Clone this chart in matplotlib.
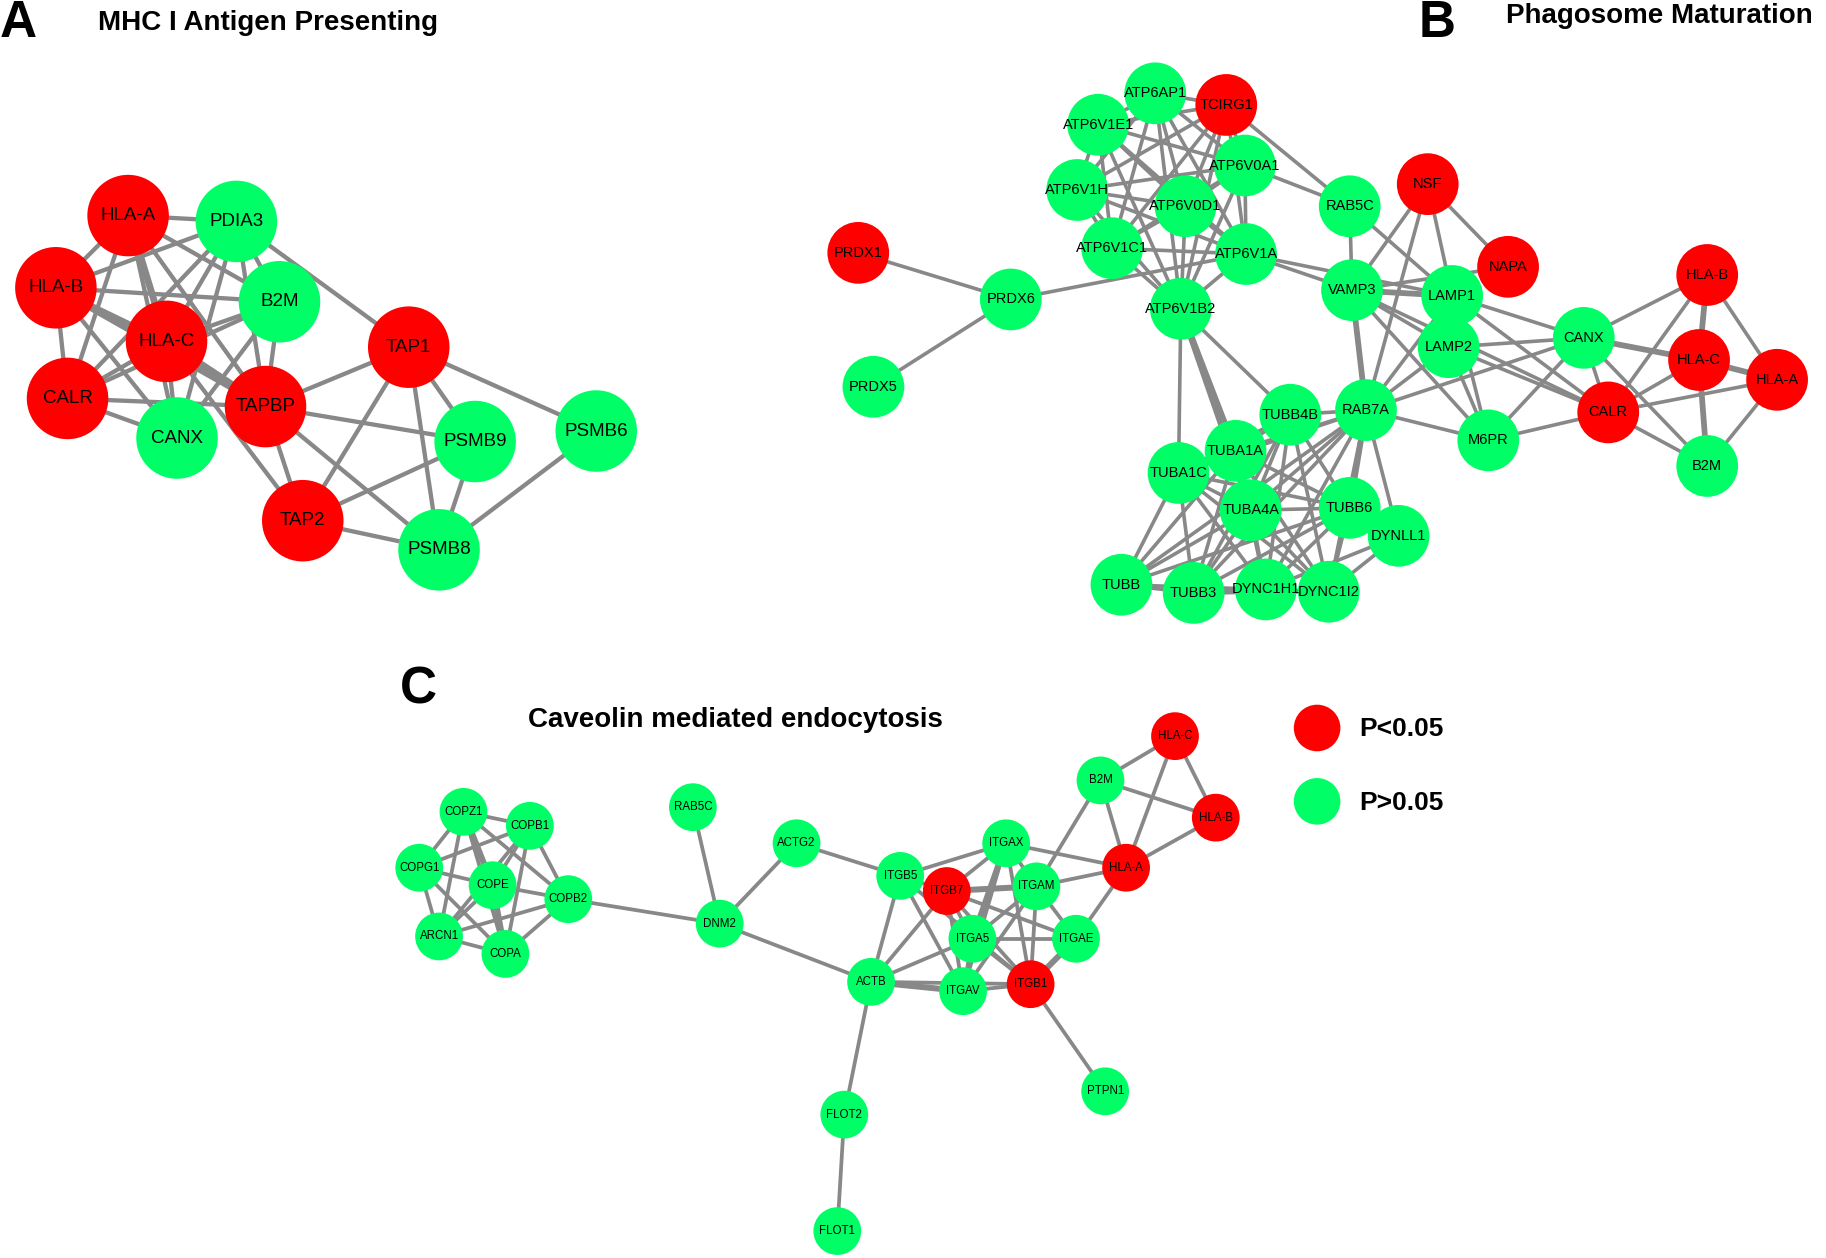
import matplotlib.pyplot as plt
from matplotlib.patches import Circle

plt.rcParams['font.family'] = ['Liberation Sans', 'DejaVu Sans']

# ---- data: significant genes (P<0.05) and interactions per panel ----
a_sig = ["HLA-A", "HLA-B", "HLA-C", "CALR", "TAPBP", "TAP1", "TAP2"]
a_genes = ["HLA-A", "PDIA3", "HLA-B", "B2M", "HLA-C", "CALR", "CANX", "TAPBP",
           "TAP1", "PSMB9", "PSMB6", "TAP2", "PSMB8"]
a_links = {
    "HLA-A": "PDIA3 HLA-B HLA-C CALR CANX B2M TAPBP",
    "PDIA3": "HLA-B HLA-C CALR CANX B2M TAPBP TAP1",
    "HLA-B": "B2M HLA-C CALR CANX TAPBP",
    "HLA-C": "B2M CALR CANX TAPBP TAP2",
    "CALR": "CANX TAPBP B2M",
    "CANX": "B2M",
    "B2M": "TAPBP",
    "TAPBP": "TAP1 PSMB9 TAP2 PSMB8",
    "TAP1": "PSMB9 PSMB6 PSMB8 TAP2",
    "TAP2": "PSMB9 PSMB8",
    "PSMB9": "PSMB8",
    "PSMB6": "PSMB8",
}
a_strong = ["HLA-B-TAPBP", "HLA-A-HLA-C", "HLA-C-TAPBP"]

b_sig = ["TCIRG1", "PRDX1", "NSF", "NAPA", "HLA-B", "HLA-C", "HLA-A", "CALR"]
b_genes = ["ATP6AP1", "TCIRG1", "ATP6V1E1", "ATP6V0A1", "ATP6V1H", "ATP6V0D1",
           "ATP6V1C1", "ATP6V1A", "ATP6V1B2", "PRDX1", "PRDX6", "PRDX5", "RAB5C",
           "NSF", "NAPA", "VAMP3", "LAMP1", "LAMP2", "CANX", "HLA-B", "HLA-C",
           "HLA-A", "CALR", "B2M", "M6PR", "RAB7A", "TUBB4B", "TUBA1A", "TUBA1C",
           "TUBA4A", "TUBB6", "DYNLL1", "TUBB", "TUBB3", "DYNC1H1", "DYNC1I2"]
b_links = {
    "PRDX6": "PRDX1 PRDX5 ATP6V1A",
    "ATP6AP1": "TCIRG1 ATP6V1E1 ATP6V0A1 ATP6V1H ATP6V0D1 ATP6V1C1 ATP6V1A ATP6V1B2",
    "TCIRG1": "ATP6V1E1 ATP6V0A1 ATP6V1H ATP6V0D1 ATP6V1C1 ATP6V1A ATP6V1B2 RAB5C",
    "ATP6V1E1": "ATP6V0A1 ATP6V1H ATP6V0D1 ATP6V1C1 ATP6V1A ATP6V1B2",
    "ATP6V0A1": "ATP6V1H ATP6V0D1 ATP6V1C1 ATP6V1A ATP6V1B2 RAB5C",
    "ATP6V1H": "ATP6V0D1 ATP6V1C1 ATP6V1A ATP6V1B2",
    "ATP6V0D1": "ATP6V1C1 ATP6V1A ATP6V1B2",
    "ATP6V1C1": "ATP6V1A ATP6V1B2",
    "ATP6V1A": "ATP6V1B2 VAMP3 LAMP1",
    "ATP6V1B2": "TUBA1C TUBA1A TUBA4A TUBB4B",
    "RAB5C": "VAMP3 LAMP1",
    "NSF": "VAMP3 LAMP1 NAPA RAB7A",
    "NAPA": "VAMP3",
    "VAMP3": "LAMP1 LAMP2 M6PR RAB7A CALR",
    "LAMP1": "LAMP2 CANX CALR RAB7A M6PR",
    "LAMP2": "CANX CALR M6PR RAB7A",
    "CANX": "RAB7A M6PR CALR HLA-B HLA-C B2M",
    "CALR": "M6PR HLA-C HLA-A B2M HLA-B",
    "HLA-B": "HLA-C HLA-A",
    "HLA-C": "HLA-A B2M",
    "HLA-A": "B2M",
    "RAB7A": "M6PR TUBB4B TUBA1A TUBA4A TUBB6 DYNLL1 TUBA1C TUBB TUBB3 DYNC1H1 DYNC1I2",
    "TUBB4B": "TUBA1A TUBA4A TUBB6 DYNC1H1 DYNC1I2 TUBB3 TUBA1C",
    "TUBA1A": "TUBA1C TUBA4A TUBB6 TUBB TUBB3 DYNC1H1 DYNC1I2",
    "TUBA1C": "TUBA4A TUBB TUBB3 DYNC1H1 DYNC1I2 TUBB6",
    "TUBA4A": "TUBB6 TUBB TUBB3 DYNC1H1 DYNC1I2",
    "TUBB6": "DYNC1H1 DYNC1I2 TUBB3 DYNLL1",
    "TUBB": "TUBB3 DYNC1H1 TUBB6",
    "TUBB3": "DYNC1H1 DYNC1I2",
    "DYNC1H1": "DYNC1I2 DYNLL1",
    "DYNC1I2": "DYNLL1",
}
b_strong = ["VAMP3-RAB7A", "VAMP3-LAMP1", "CANX-HLA-C", "HLA-B-HLA-C",
            "HLA-C-B2M", "HLA-C-HLA-A", "ATP6V1B2-TUBA1A", "ATP6V1B2-TUBA4A",
            "TUBB3-DYNC1H1", "RAB7A-TUBB6"]

c_sig = ["ITGB7", "ITGB1", "HLA-C", "HLA-B", "HLA-A"]
c_genes = ["COPZ1", "COPB1", "COPG1", "COPE", "COPB2", "ARCN1", "COPA", "RAB5C",
           "ACTG2", "DNM2", "ITGB5", "ITGB7", "ITGAX", "ITGAM", "ITGA5", "ITGAE",
           "ACTB", "ITGAV", "ITGB1", "B2M", "HLA-C", "HLA-B", "HLA-A", "PTPN1",
           "FLOT2", "FLOT1"]
c_links = {
    "COPZ1": "COPB1 COPG1 COPE ARCN1 COPA COPB2",
    "COPB1": "COPG1 COPE ARCN1 COPA COPB2",
    "COPG1": "COPE ARCN1 COPA",
    "COPE": "COPB2 ARCN1 COPA",
    "ARCN1": "COPB2 COPA",
    "COPA": "COPB2",
    "COPB2": "DNM2",
    "DNM2": "RAB5C ACTG2 ACTB",
    "ACTG2": "ITGB5",
    "ITGB5": "ITGAX ITGB7 ACTB ITGAV ITGB1",
    "ITGB7": "ITGAX ITGAM ITGA5 ITGAV ITGAE ITGB1 ACTB",
    "ITGAX": "ITGAM ITGA5 ITGAV ITGB1 HLA-A",
    "ITGAM": "HLA-A ITGA5 ITGAV ITGB1 ITGAE B2M",
    "ITGA5": "ITGAE ITGB1 ACTB ITGAV",
    "ITGAE": "ITGB1 HLA-A",
    "ACTB": "ITGAV ITGB1 FLOT2",
    "FLOT2": "FLOT1",
    "ITGB1": "PTPN1 ITGAV",
    "B2M": "HLA-C HLA-B HLA-A",
    "HLA-C": "HLA-B HLA-A",
    "HLA-A": "HLA-B",
}
c_strong = ["COPZ1-COPE", "COPE-COPA", "ITGAX-ITGA5", "ACTB-ITGAV",
            "ITGAE-ITGB1", "ITGB7-ITGAM"]

# ---- layout (node centres on a 1568 x 1080 canvas) ----
a_pos = {"HLA-A": (110, 185), "PDIA3": (203, 190), "HLA-B": (48, 247),
         "B2M": (240, 259), "HLA-C": (143, 293), "CALR": (58, 342),
         "CANX": (152, 376), "TAPBP": (228, 349), "TAP1": (351, 298),
         "PSMB9": (408, 379), "PSMB6": (512, 370), "TAP2": (260, 447),
         "PSMB8": (377, 472)}
b_pos = {"ATP6AP1": (992, 80), "TCIRG1": (1053, 90), "ATP6V1E1": (943, 107),
         "ATP6V0A1": (1069, 142), "ATP6V1H": (925, 163), "ATP6V0D1": (1018, 177),
         "ATP6V1C1": (955, 213), "ATP6V1A": (1070, 218), "ATP6V1B2": (1014, 265),
         "PRDX1": (737, 217), "PRDX6": (868, 257), "PRDX5": (750, 332),
         "RAB5C": (1159, 177), "NSF": (1226, 158), "NAPA": (1295, 229),
         "VAMP3": (1161, 249), "LAMP1": (1247, 254), "LAMP2": (1244, 298),
         "CANX": (1360, 290), "HLA-B": (1466, 236), "HLA-C": (1459, 309),
         "HLA-A": (1526, 326), "CALR": (1381, 354), "B2M": (1466, 400),
         "M6PR": (1278, 378), "RAB7A": (1173, 352), "TUBB4B": (1108, 356),
         "TUBA1A": (1061, 387), "TUBA1C": (1012, 406), "TUBA4A": (1074, 438),
         "TUBB6": (1159, 436), "DYNLL1": (1201, 460), "TUBB": (963, 502),
         "TUBB3": (1025, 509), "DYNC1H1": (1087, 506), "DYNC1I2": (1141, 508)}
c_pos = {"COPZ1": (398, 697), "COPB1": (455, 709), "COPG1": (360, 745),
         "COPE": (423, 760), "COPB2": (488, 772), "ARCN1": (377, 804),
         "COPA": (434, 819), "RAB5C": (595, 693), "ACTG2": (684, 724),
         "DNM2": (618, 793), "ITGB5": (773, 752), "ITGB7": (813, 765),
         "ITGAX": (864, 724), "ITGAM": (890, 761), "ITGA5": (835, 806),
         "ITGAE": (924, 806), "ACTB": (748, 843), "ITGAV": (827, 851),
         "ITGB1": (885, 845), "B2M": (945, 670), "HLA-C": (1009, 632),
         "HLA-B": (1044, 702), "HLA-A": (967, 745), "PTPN1": (949, 937),
         "FLOT2": (725, 957), "FLOT1": (719, 1057)}

RED = "#ff0000"
GREEN = "#00ff66"
EDGE = "#888888"

fig = plt.figure(figsize=(18.26, 12.58), dpi=100)
ax = fig.add_axes([0, 0, 1, 1])
ax.set_xlim(0, 1568)
ax.set_ylim(1080, 0)
ax.set_aspect('equal')
ax.axis('off')


def draw_net(genes, sig, links, strong, pos, r, lw, fs):
    for a, nbrs in links.items():
        for b in nbrs.split():
            (x1, y1), (x2, y2) = pos[a], pos[b]
            w = lw * 1.6 if (a + "-" + b) in strong else lw
            ax.plot([x1, x2], [y1, y2], color=EDGE, lw=w, zorder=1,
                    solid_capstyle='butt')
    for g in genes:
        x, y = pos[g]
        ax.add_patch(Circle((x, y), r, color=RED if g in sig else GREEN,
                            lw=0, zorder=2))
        ax.text(x, y, g, ha='center', va='center', fontsize=fs, zorder=3)


draw_net(a_genes, a_sig, a_links, a_strong, a_pos, 35, 3.1, 13.5)
draw_net(b_genes, b_sig, b_links, b_strong, b_pos, 26.5, 2.6, 10.5)
draw_net(c_genes, c_sig, c_links, c_strong, c_pos, 20.5, 2.7, 8.3)

# panel letters and titles
ax.text(0, 20, "A", fontsize=37, fontweight='bold', va='center', ha='left')
ax.text(84, 20, "MHC I Antigen Presenting", fontsize=20, fontweight='bold', va='center')
ax.text(1218, 20, "B", fontsize=37, fontweight='bold', va='center', ha='left')
ax.text(1293, 14, "Phagosome Maturation", fontsize=20, fontweight='bold', va='center')
ax.text(343, 592, "C", fontsize=37, fontweight='bold', va='center', ha='left')
ax.text(453, 618, "Caveolin mediated endocytosis", fontsize=20, fontweight='bold', va='center')

# legend
ax.add_patch(Circle((1131, 625), 20, color=RED, lw=0))
ax.text(1167, 626, "P<0.05", fontsize=19, fontweight='bold', va='center')
ax.add_patch(Circle((1131, 688), 20, color=GREEN, lw=0))
ax.text(1167, 689, "P>0.05", fontsize=19, fontweight='bold', va='center')

fig.savefig("out.png", dpi=100, facecolor='white')
